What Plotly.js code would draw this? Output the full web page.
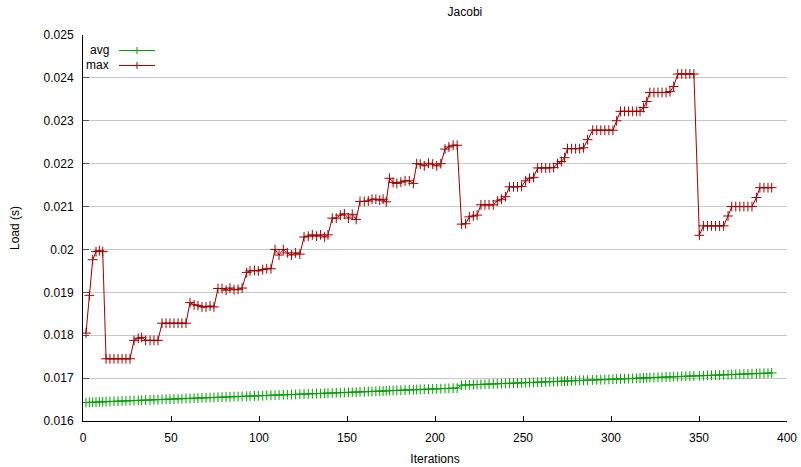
<!DOCTYPE html>
<html>
<head>
<meta charset="utf-8">
<script src="https://cdn.plot.ly/plotly-3.0.1.min.js"></script>
<style>html,body{margin:0;padding:0;background:#fff;}#chart{width:801px;height:467px;}</style>
</head>
<body>
<div id="chart"></div>
<script>
// Iteration positions of the samples
const iterations = [1.7,3.6,5.5,7.4,9.3,11.2,13.1,15.3,17.6,19.9,
22.2,24.4,26.7,29.0,31.4,33.3,35.6,38.1,40.3,42.6,
44.9,47.2,49.4,51.7,54.0,56.2,58.5,60.8,63.1,65.3,
67.6,69.9,72.2,74.4,76.7,79.0,81.3,83.5,85.8,88.1,
90.4,93.0,94.9,97.4,99.6,102.1,104.4,106.8,109.1,111.4,
113.8,116.1,118.5,120.8,123.2,125.6,128.0,130.3,132.7,135.0,
137.3,139.2,141.6,143.9,146.2,148.5,150.8,153.0,155.2,157.4,
159.8,162.1,164.2,166.4,168.6,170.5,172.3,174.1,176.2,178.3,
180.6,183.0,185.4,187.7,189.6,191.6,193.9,196.3,198.7,201.0,
203.3,205.7,207.9,210.3,212.6,215.1,217.4,219.5,221.8,223.9,
226.1,228.4,230.7,233.1,235.4,237.8,240.0,242.3,244.6,246.9,
249.2,251.5,253.7,256.0,258.3,260.6,262.9,265.2,267.4,269.6,
271.8,273.6,275.3,277.6,279.9,282.2,284.4,286.7,289.6,291.9,
294.2,296.5,298.8,301.1,303.2,305.4,307.7,310.0,312.3,314.6,
316.5,318.5,320.3,322.1,324.4,326.7,329.0,331.3,333.5,335.6,
337.9,340.2,342.5,344.8,347.1,350.2,352.5,354.8,357.1,359.4,
361.7,364.0,366.5,368.6,370.9,373.2,375.5,377.8,380.1,382.6,
384.6,386.9,389.2,391.3];

const avgLoad = [0.016430,0.016434,0.016437,0.016441,0.016444,0.016448,0.016452,0.016455,0.016459,0.016462,
0.016466,0.016470,0.016473,0.016477,0.016480,0.016484,0.016488,0.016491,0.016495,0.016498,
0.016502,0.016506,0.016509,0.016513,0.016516,0.016520,0.016524,0.016527,0.016531,0.016534,
0.016538,0.016542,0.016545,0.016549,0.016552,0.016556,0.016560,0.016563,0.016567,0.016570,
0.016574,0.016578,0.016581,0.016585,0.016588,0.016592,0.016596,0.016599,0.016603,0.016606,
0.016610,0.016614,0.016617,0.016621,0.016624,0.016628,0.016632,0.016635,0.016639,0.016642,
0.016646,0.016650,0.016653,0.016657,0.016660,0.016664,0.016668,0.016671,0.016675,0.016678,
0.016682,0.016686,0.016689,0.016693,0.016696,0.016700,0.016704,0.016707,0.016711,0.016714,
0.016718,0.016722,0.016725,0.016729,0.016732,0.016736,0.016740,0.016743,0.016747,0.016750,
0.016754,0.016758,0.016761,0.016765,0.016768,
0.016835,0.016839,0.016842,0.016846,0.016850,0.016853,0.016857,0.016861,0.016864,0.016868,
0.016872,0.016875,0.016879,0.016883,0.016886,0.016890,0.016894,0.016897,0.016901,0.016905,
0.016908,0.016912,0.016916,0.016919,0.016923,0.016927,0.016930,0.016934,0.016938,0.016941,
0.016945,0.016949,0.016952,0.016956,0.016960,0.016963,0.016967,0.016971,0.016974,0.016978,
0.016981,0.016985,0.016989,0.016992,0.016996,0.017000,0.017003,0.017007,0.017011,0.017014,
0.017018,0.017022,0.017025,0.017029,0.017033,0.017036,0.017040,0.017044,0.017047,0.017051,
0.017054,0.017058,0.017062,0.017065,0.017069,0.017073,0.017076,0.017080,0.017084,0.017087,
0.017091,0.017094,0.017098,0.017102,0.017105,0.017109,0.017113,0.017116,0.017120];

const maxLoad = [0.01805,0.01893,0.01976,0.01995,0.01997,0.01995,0.01745,0.01745,0.01745,0.01745,
0.01745,0.01745,0.01745,0.01788,0.01793,0.01795,0.01788,0.01788,0.01788,0.01788,
0.01828,0.01828,0.01828,0.01828,0.01828,0.01828,0.01828,0.01876,0.01871,0.01869,
0.01866,0.01866,0.01868,0.01866,0.01909,0.01909,0.01905,0.01910,0.01906,0.01907,
0.01910,0.01946,0.01950,0.01951,0.01950,0.01953,0.01955,0.01955,0.02000,0.01987,
0.02000,0.01992,0.01987,0.01992,0.01989,0.02029,0.02031,0.02034,0.02031,0.02034,
0.02029,0.02034,0.02073,0.02073,0.02080,0.02083,0.02073,0.02082,0.02070,0.02112,
0.02112,0.02113,0.02117,0.02117,0.02115,0.02117,0.02111,0.02166,0.02156,0.02154,
0.02157,0.02160,0.02160,0.02154,0.02200,0.02199,0.02195,0.02201,0.02199,0.02195,
0.02200,0.02234,0.02239,0.02243,0.02243,0.02059,0.02060,0.02076,0.02078,0.02080,
0.02104,0.02104,0.02104,0.02104,0.02113,0.02117,0.02123,0.02146,0.02146,0.02146,
0.02147,0.02160,0.02166,0.02168,0.02190,0.02190,0.02190,0.02190,0.02191,0.02200,
0.02205,0.02214,0.02235,0.02235,0.02235,0.02235,0.02237,0.02256,0.02278,0.02278,
0.02278,0.02278,0.02278,0.02278,0.02300,0.02322,0.02322,0.02322,0.02322,0.02322,
0.02322,0.02331,0.02345,0.02366,0.02366,0.02366,0.02366,0.02366,0.02368,0.02380,
0.02409,0.02409,0.02409,0.02409,0.02409,0.02033,0.02055,0.02055,0.02055,0.02055,
0.02055,0.02055,0.02078,0.02100,0.02100,0.02100,0.02100,0.02100,0.02100,0.02121,
0.02144,0.02144,0.02144,0.02144];

const seriesNames = ["avg", "max"];
const yTickVals = [0.016,0.017,0.018,0.019,0.020,0.021,0.022,0.023,0.024,0.025];
const yTickText = ["0.016","0.017","0.018","0.019","0.02","0.021","0.022","0.023","0.024","0.025"];
const xTickVals = [0,50,100,150,200,250,300,350,400];

const GREEN = "#00a000";
const RED = "#a00000";
const FONT = "Liberation Sans, Arial, sans-serif";

const traces = [
  {x: iterations, y: avgLoad, name: seriesNames[0], mode: "lines+markers", type: "scatter",
   line: {color: GREEN, width: 1},
   marker: {symbol: "cross-thin", size: 7, color: GREEN, line: {color: GREEN, width: 1}}},
  {x: iterations, y: maxLoad, name: seriesNames[1], mode: "lines+markers", type: "scatter",
   line: {color: RED, width: 1},
   marker: {symbol: "cross-thin", size: 7, color: RED, line: {color: RED, width: 1}}}
];

// legend (gnuplot style: label left, sample right) in paper coordinates
const legRows = [{y: 0.9599, c: GREEN, t: seriesNames[0]}, {y: 0.9211, c: RED, t: seriesNames[1]}];
const shapes = [];
const annotations = [];
const pxX = 1/704, pxY = 1/386.5;
legRows.forEach(r => {
  shapes.push({type: "line", xref: "paper", yref: "paper", x0: 0.0511, x1: 0.1023, y0: r.y, y1: r.y, line: {color: r.c, width: 1}});
  shapes.push({type: "line", xref: "paper", yref: "paper", x0: 0.0767 - 3.5*pxX, x1: 0.0767 + 3.5*pxX, y0: r.y, y1: r.y, line: {color: r.c, width: 1}});
  shapes.push({type: "line", xref: "paper", yref: "paper", x0: 0.0767, x1: 0.0767, y0: r.y - 3.5*pxY, y1: r.y + 3.5*pxY, line: {color: r.c, width: 1}});
  annotations.push({xref: "paper", yref: "paper", x: 0.0398, y: r.y, xanchor: "right", yanchor: "middle",
    text: r.t, showarrow: false, font: {family: FONT, size: 12, color: "#000"}});
});

const layout = {
  width: 801, height: 467,
  margin: {l: 83, r: 14, t: 35, b: 46, pad: 0},
  paper_bgcolor: "#fff", plot_bgcolor: "#fff",
  showlegend: false,
  font: {family: FONT, size: 12, color: "#000"},
  title: {text: "Jacobi", x: 0.5425, xref: "paper", y: 0.975, yanchor: "middle", font: {family: FONT, size: 12, color: "#000"}},
  xaxis: {
    range: [0, 400], tickvals: xTickVals, ticks: "inside", ticklen: 5, tickcolor: "#000", tickwidth: 1,
    showgrid: false, zeroline: false, showline: true, linecolor: "#000", linewidth: 1,
    ticklabelstandoff: 6,
    title: {text: "Iterations", standoff: 10, font: {family: FONT, size: 12, color: "#000"}},
    tickfont: {family: FONT, size: 12, color: "#000"}
  },
  yaxis: {
    range: [0.016, 0.025], tickvals: yTickVals, ticktext: yTickText, ticks: "inside", ticklen: 6, tickcolor: "#555", tickwidth: 1,
    showgrid: true, gridcolor: "#c8c8c8", gridwidth: 1, zeroline: false, showline: true, linecolor: "#000", linewidth: 1,
    ticklabelstandoff: 6,
    title: {text: "Load (s)", standoff: 21, font: {family: FONT, size: 12, color: "#000"}},
    tickfont: {family: FONT, size: 12, color: "#000"}
  },
  shapes: shapes,
  annotations: annotations
};

Plotly.newPlot("chart", traces, layout, {displayModeBar: false, staticPlot: true});
</script>
</body>
</html>
